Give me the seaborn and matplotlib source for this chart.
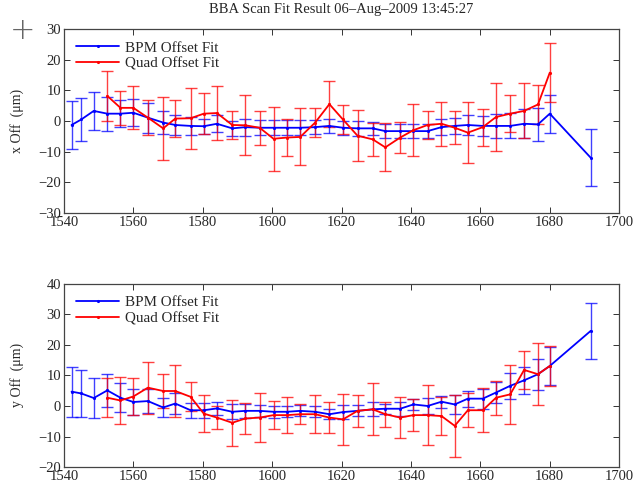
import matplotlib
matplotlib.use("Agg")
import matplotlib.pyplot as plt
import seaborn as sns
import pandas as pd

# BPM positions (m) and quad positions (subset, 1552..1680)
z_bpm = [1542.2, 1545.0, 1548.6, 1552.5, 1556.3, 1560.0, 1564.2, 1568.6, 1572.1, 1576.5,
         1580.3, 1584.1, 1588.5, 1592.3, 1596.4, 1600.4, 1604.3, 1608.1, 1612.4, 1616.5,
         1620.4, 1624.6, 1629.0, 1632.6, 1636.9, 1640.7, 1644.8, 1648.8, 1652.6, 1656.4,
         1660.7, 1664.5, 1668.6, 1672.6, 1676.6, 1680.0, 1691.8]
z_quad = [1552.5, 1556.3, 1560.0, 1564.2, 1568.6, 1572.1, 1576.5, 1580.3, 1584.1, 1588.5,
          1592.3, 1596.4, 1600.4, 1604.3, 1608.1, 1612.4, 1616.5, 1620.4, 1624.6, 1629.0,
          1632.6, 1636.9, 1640.7, 1644.8, 1648.8, 1652.6, 1656.4, 1660.7, 1664.5, 1668.6,
          1672.6, 1676.6, 1680.0]

# x plane
x_bpm = [-1.3, 0.5, 3.3, 2.4, 2.4, 2.7, 1.1, -0.5, -1.3, -1.6, -1.7, -0.9, -2.4, -2.0, -2.2,
         -2.2, -2.2, -2.2, -2.0, -1.6, -2.2, -2.4, -2.4, -3.3, -3.3, -3.3, -3.3, -2.0, -1.6,
         -1.3, -1.6, -1.6, -1.6, -0.9, -1.1, 2.4, -12.0]
x_bpm_err = [7.8, 7.1, 6.1, 5.5, 4.5, 4.4, 4.9, 3.7, 3.3, 3.0, 2.5, 2.8, 2.4, 2.8, 2.4, 2.5,
             2.5, 2.5, 2.3, 2.3, 2.3, 2.4, 2.1, 2.3, 2.3, 2.4, 2.4, 2.7, 2.7, 3.3, 3.3, 3.8,
             4.1, 4.8, 5.5, 6.2, 9.3]
x_quad = [8.2, 4.3, 4.3, 1.1, -2.4, 0.8, 0.9, 2.4, 2.6, -1.3, -1.4, -2.2, -5.8, -5.4, -5.2,
          -0.5, 5.5, 0.5, -4.8, -6.0, -8.6, -5.4, -3.0, -1.3, -0.9, -2.2, -3.8, -2.0, 1.3,
          2.4, 3.3, 5.4, 15.8]
x_quad_err = [8.2, 5.5, 7.0, 5.6, 10.2, 5.9, 10.0, 6.6, 8.9, 4.5, 9.8, 5.5, 10.4, 5.9, 9.3,
              4.7, 7.5, 4.7, 8.3, 5.3, 7.8, 5.1, 8.5, 4.5, 7.1, 5.4, 10.0, 6.0, 11.0, 6.0,
              9.0, 6.3, 9.6]

# y plane
y_bpm = [4.7, 4.1, 2.6, 5.1, 2.7, 1.3, 1.6, -0.5, 0.8, -1.4, -1.4, -0.8, -1.9, -1.6, -1.6,
         -1.9, -1.9, -1.6, -1.9, -2.7, -2.0, -1.6, -1.1, -0.9, -0.9, 0.5, 0.0, 1.4, 0.5, 2.4,
         2.4, 4.4, 6.6, 8.4, 10.4, 13.1, 24.6]
y_bpm_err = [8.2, 7.6, 6.5, 5.5, 4.8, 4.2, 4.0, 3.0, 3.3, 2.4, 2.5, 2.2, 2.4, 2.3, 1.9, 1.9,
             1.8, 1.8, 1.8, 1.6, 2.2, 1.8, 2.3, 1.6, 2.3, 1.9, 2.5, 2.0, 3.0, 2.6, 3.3, 3.5,
             4.3, 4.5, 5.1, 6.3, 9.2]
y_quad = [2.7, 1.8, 3.1, 6.0, 4.9, 4.9, 3.0, -2.5, -3.8, -5.5, -4.1, -3.8, -3.0, -3.0, -2.7,
          -2.7, -3.8, -4.4, -1.6, -1.1, -2.7, -3.8, -3.0, -3.0, -3.3, -6.5, -1.4, -1.4, 2.7,
          3.8, 11.8, 10.4, 13.1]
y_quad_err = [6.3, 7.8, 6.0, 8.5, 5.6, 8.4, 4.8, 6.1, 3.8, 7.6, 5.0, 8.1, 4.5, 5.9, 3.2, 6.2,
              5.2, 8.4, 5.3, 8.5, 4.1, 6.7, 5.3, 9.9, 6.1, 10.2, 5.5, 7.2, 5.6, 9.6, 6.2, 10.2,
              6.7]

sns.set_style("ticks")
plt.rcParams['font.family'] = ['Liberation Serif', 'DejaVu Serif']
plt.rcParams['xtick.direction'] = 'in'
plt.rcParams['ytick.direction'] = 'in'

blue = "#0000ff"
red = "#ff0000"

fig = plt.figure(figsize=(6.39, 4.86), dpi=100)
ax1 = fig.add_axes([0.100, 0.562, 0.869, 0.378])
ax2 = fig.add_axes([0.100, 0.039, 0.869, 0.377])

panels = [
    (ax1, x_bpm, x_bpm_err, x_quad, x_quad_err, "x Off  (\u03bcm)", (-30, 30)),
    (ax2, y_bpm, y_bpm_err, y_quad, y_quad_err, "y Off  (\u03bcm)", (-20, 40)),
]

for ax, b, be, q, qe, lab, ylim in panels:
    df_b = pd.DataFrame({"z": z_bpm, "off": b})
    df_q = pd.DataFrame({"z": z_quad, "off": q})
    ax.errorbar(z_bpm, b, yerr=be, fmt="none", ecolor=blue, elinewidth=1.0,
                capsize=4, capthick=1.0, alpha=0.75)
    ax.errorbar(z_quad, q, yerr=qe, fmt="none", ecolor=red, elinewidth=1.0,
                capsize=4, capthick=1.0, alpha=0.75)
    sns.lineplot(data=df_b, x="z", y="off", ax=ax, color=blue, lw=1.3, marker=".",
                 markersize=4.5, markeredgewidth=0, label="BPM Offset Fit")
    sns.lineplot(data=df_q, x="z", y="off", ax=ax, color=red, lw=1.3, marker=".",
                 markersize=4.5, markeredgewidth=0, label="Quad Offset Fit")
    ax.set_xlim(1540, 1700)
    ax.set_ylim(*ylim)
    ax.set_xticks(range(1540, 1701, 20))
    ax.set_yticks(range(ylim[0], ylim[1] + 1, 10))
    ax.set_xlabel("")
    ax.set_ylabel(lab, fontsize=10)
    ax.yaxis.set_label_coords(-0.072, 0.5)
    ax.tick_params(axis="both", labelsize=10.5, top=True, right=True, length=4,
                   width=0.7, color="#333333", pad=2)
    for s in ax.spines.values():
        s.set_linewidth(0.9)
        s.set_color("#444444")
    ax.legend(loc="upper left", frameon=False, fontsize=10.8, handlelength=2.9,
              borderaxespad=0.3, labelspacing=0.15, handletextpad=0.4,
              borderpad=0.5)

fig.text(0.534, 0.968, "BBA Scan Fit Result 06\u2013Aug\u20132009 13:45:27", ha="center",
         va="bottom", fontsize=10.5)
fig.text(0.036, 0.938, "+", ha="center", va="center", fontsize=22, color="#666666",
         family="DejaVu Sans", fontweight="light")

fig.savefig("out.png", dpi=100)
